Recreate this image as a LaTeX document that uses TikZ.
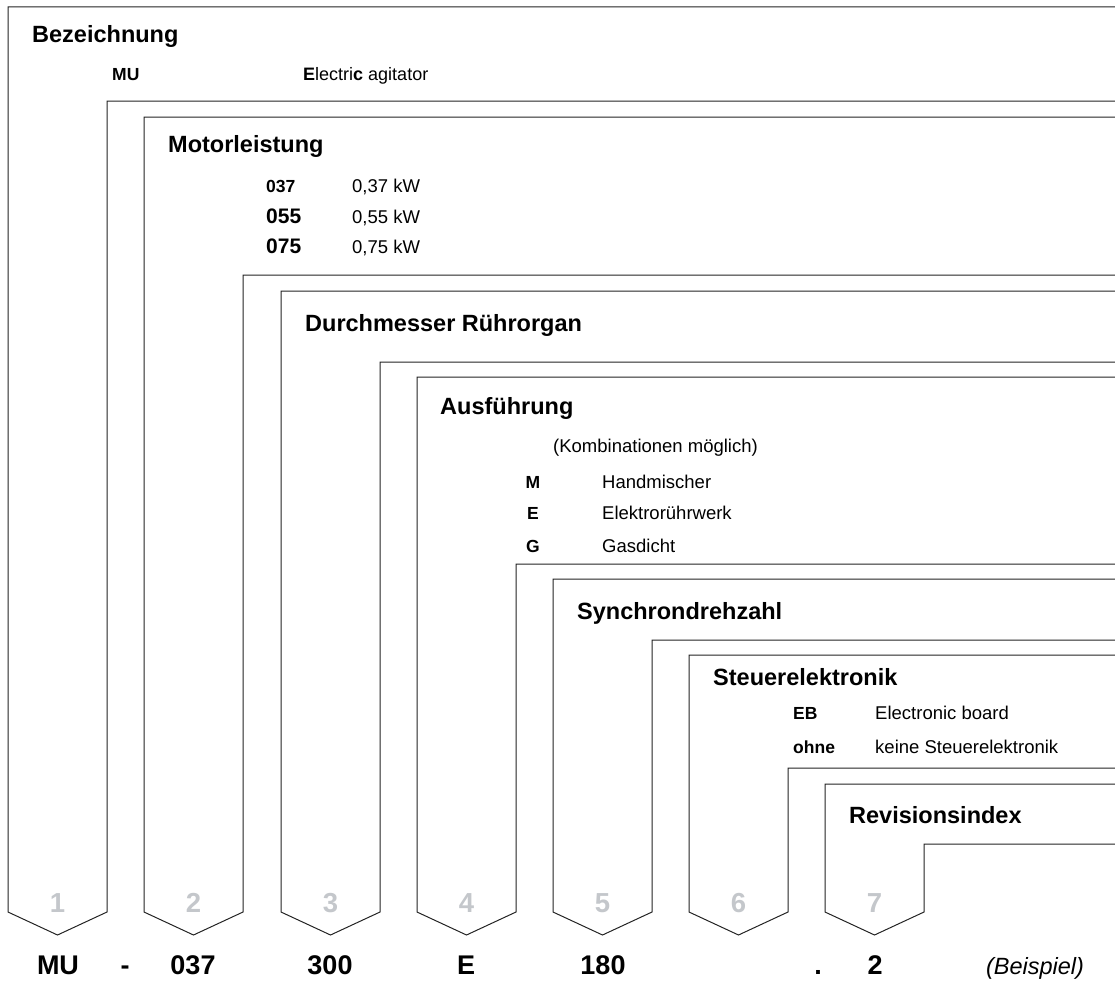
\documentclass[tikz,border=0pt]{standalone}
\usepackage{fontspec}
\setmainfont{Liberation Sans}
\usepackage{tikz}
\usetikzlibrary{positioning}

\definecolor{digitgray}{RGB}{196,199,203}
\definecolor{linegray}{RGB}{35,35,35}

\begin{document}
\begin{tikzpicture}[x=1pt, y=-1pt]
    \tikzstyle{band} = [draw=linegray, line width=1pt, line join=miter]
    \tikzstyle{title} = [anchor=base west, inner sep=0pt, font=\fontsize{23.5}{28}\selectfont\bfseries]
    \tikzstyle{code} = [anchor=base west, inner sep=0pt, font=\fontsize{17.5}{21}\selectfont\bfseries]
    \tikzstyle{bigcode} = [code, font=\fontsize{21}{25}\selectfont\bfseries]
    \tikzstyle{descr} = [anchor=base west, inner sep=0pt, font=\fontsize{18.5}{22}\selectfont]
    \tikzstyle{digit} = [anchor=base, inner sep=0pt, text=digitgray, font=\fontsize{27.5}{32}\selectfont\bfseries]
    \tikzstyle{result} = [anchor=base, inner sep=0pt, font=\fontsize{27}{32}\selectfont\bfseries]

    \useasboundingbox (0,0) rectangle (1115,982);

    % the seven nested bands
    \draw [band] (1115,7) -- (8,7) -- (8,912) -- (57.5,935) -- (107,912) -- (107,101) -- (1115,101);
    \draw [band] (1115,117) -- (144,117) -- (144,912) -- (193.5,935) -- (243,912) -- (243,275) -- (1115,275);
    \draw [band] (1115,291) -- (281,291) -- (281,912) -- (330.5,935) -- (380,912) -- (380,362) -- (1115,362);
    \draw [band] (1115,377) -- (417,377) -- (417,912) -- (466.5,935) -- (516,912) -- (516,564) -- (1115,564);
    \draw [band] (1115,579) -- (553,579) -- (553,912) -- (602.5,935) -- (652,912) -- (652,640) -- (1115,640);
    \draw [band] (1115,655) -- (689,655) -- (689,912) -- (738.5,935) -- (788,912) -- (788,768) -- (1115,768);
    \draw [band] (1115,784) -- (825,784) -- (825,912) -- (874.5,935) -- (924,912) -- (924,844) -- (1115,844);

    % 1 Bezeichnung
    \node [title] (bez) at (32,43) {Bezeichnung};
    \node [code] (mu) at (112,81) {MU};
    \node [descr, font=\fontsize{18}{22}\selectfont] (mutext) at (303,81) {{\bfseries E}lectri{\bfseries c} agitator};

    % 2 Motorleistung
    \node [title] (motor) at (168,152) {Motorleistung};
    \node [code] (c037) at (266,192) {037};
    \node [bigcode] (c055) at (266,223) {055};
    \node [bigcode] (c075) at (266,253) {075};
    \node [descr] (d037) at ([xshift=86pt]c037.base west) {0,37 kW};
    \node [descr] (d055) at ([xshift=86pt]c055.base west) {0,55 kW};
    \node [descr] (d075) at ([xshift=86pt]c075.base west) {0,75 kW};

    % 3 Durchmesser
    \node [title] (durch) at (305,331) {Durchmesser Rührorgan};

    % 4 Ausfuehrung
    \node [title] (ausf) at (440,414) {Ausführung};
    \node [descr] (kombi) at (553,452) {(Kombinationen möglich)};
    \node [code, anchor=base] (cm) at (533,488) {M};
    \node [code, anchor=base] (ce) at (533,519) {E};
    \node [code, anchor=base] (cg) at (533,552) {G};
    \node [descr] (dm) at (602,488) {Handmischer};
    \node [descr] (de) at (602,519) {Elektrorührwerk};
    \node [descr] (dg) at (602,552) {Gasdicht};

    % 5 Synchrondrehzahl
    \node [title] (sync) at (577,619) {Synchrondrehzahl};

    % 6 Steuerelektronik
    \node [title] (steuer) at (713,685) {Steuerelektronik};
    \node [code] (ceb) at (793,719) {EB};
    \node [code] (cohne) at (793,753) {ohne};
    \node [descr] (deb) at ([xshift=82pt]ceb.base west) {Electronic board};
    \node [descr] (dohne) at ([xshift=82pt]cohne.base west) {keine Steuerelektronik};

    % 7 Revisionsindex
    \node [title] (rev) at (849,823) {Revisionsindex};

    % gray position numbers
    \node [digit] (n1) at (57.5,912) {1};
    \node [digit] (n2) at (193.5,912) {2};
    \node [digit] (n3) at (330.5,912) {3};
    \node [digit] (n4) at (466.5,912) {4};
    \node [digit] (n5) at (602.5,912) {5};
    \node [digit] (n6) at (738.5,912) {6};
    \node [digit] (n7) at (874.5,912) {7};

    % example code
    \node [result] (r1) at (58,974) {MU};
    \node [result] (rdash) at (125,974) {-};
    \node [result] (r2) at (193,974) {037};
    \node [result] (r3) at (330,974) {300};
    \node [result] (r4) at (466,974) {E};
    \node [result] (r5) at (603,974) {180};
    \node [result] (rdot) at (818,974) {.};
    \node [result] (r7) at (875,974) {2};
    \node [result, font=\fontsize{23.5}{28}\selectfont\itshape] (bsp) at (1035,974) {(Beispiel)};
\end{tikzpicture}
\end{document}
